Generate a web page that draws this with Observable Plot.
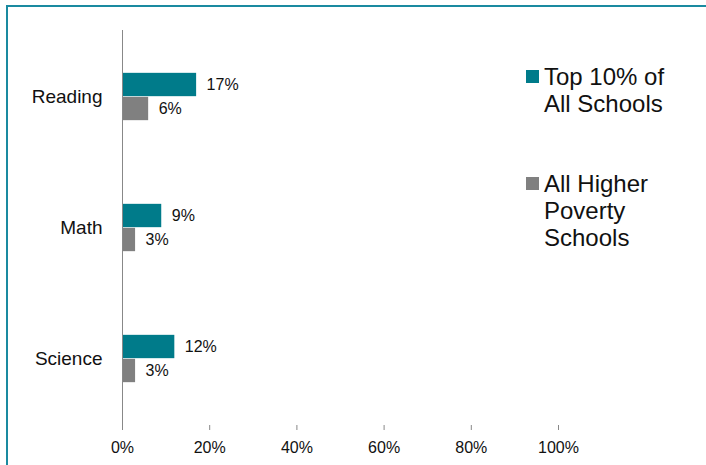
<!DOCTYPE html>
<html>
<head>
<meta charset="utf-8">
<script src="https://cdn.jsdelivr.net/npm/d3@7"></script>
<script src="https://cdn.jsdelivr.net/npm/@observablehq/plot@0.6"></script>
<style>
  html, body { margin: 0; padding: 0; background: #fff; overflow: hidden; }
  body { width: 706px; height: 465px; position: relative; font-family: "Liberation Sans", Arial, sans-serif; }
  #frame { position: absolute; left: 6px; top: 5px; width: 800px; height: 600px; border-left: 2px solid #1a8aa0; border-top: 2px solid #1a8aa0; }
  #chart { position: absolute; left: 0; top: 0; }
  .legend-item { position: absolute; left: 526px; font-size: 24px; line-height: 27px; color: #111; }
  .legend-item .sw { position: absolute; left: 0; width: 13px; height: 13px; }
  .legend-item .lbl { position: absolute; left: 18px; white-space: pre; }
</style>
</head>
<body>
<div id="frame"></div>
<div id="chart"></div>
<div id="legend"></div>
<script>
const categories = ["Reading", "Math", "Science"];
const series = ["Top 10% of All Schools", "All Higher Poverty Schools"];
const legendLines = [["Top 10% of", "All Schools"], ["All Higher", "Poverty", "Schools"]];
const topValues = [17, 9, 12];
const povertyValues = [6, 3, 3];
const xTicks = [0, 20, 40, 60, 80, 100];
const colors = ["#007b8a", "#808080"];

const data = [];
categories.forEach((c, i) => {
  data.push({category: c, series: series[0], value: topValues[i]});
  data.push({category: c, series: series[1], value: povertyValues[i]});
});

const marginTop = 30, marginBottom = 40, height = 465;
const bw = (height - marginTop - marginBottom) / categories.length;
const barH = 24;
const half = bw / 2;

const font = '"Liberation Sans", Arial, sans-serif';

const chart = Plot.plot({
  width: 706,
  height,
  marginLeft: 122,
  marginRight: 148,
  marginTop,
  marginBottom,
  style: {fontFamily: font, background: "transparent", overflow: "visible"},
  x: {domain: [0, 100], ticks: xTicks, tickFormat: d => d + "%", label: null},
  y: {domain: categories, padding: 0, label: null},
  color: {domain: series, range: colors},
  marks: [
    Plot.barX(data.filter(d => d.series === series[0]), {
      x: "value", y: "category", fill: "series",
      insetTop: half - barH, insetBottom: half
    }),
    Plot.barX(data.filter(d => d.series === series[1]), {
      x: "value", y: "category", fill: "series",
      insetTop: half, insetBottom: half - barH
    }),
    Plot.text(data.filter(d => d.series === series[0]), {
      x: "value", y: "category", text: d => d.value + "%",
      dx: 10, dy: -barH / 2, textAnchor: "start", fontSize: 16, fill: "#111"
    }),
    Plot.text(data.filter(d => d.series === series[1]), {
      x: "value", y: "category", text: d => d.value + "%",
      dx: 10, dy: barH / 2, textAnchor: "start", fontSize: 16, fill: "#111"
    }),
    Plot.axisX({ticks: xTicks, tickFormat: d => d + "%", tickSize: 5, tickPadding: 11, fontSize: 16, stroke: "#888", color: "#111", label: null}),
    Plot.ruleY([0], {y: () => 0, frameAnchor: "bottom", stroke: "#888"}),
    Plot.axisY({tickSize: 0, tickPadding: 20, fontSize: 19, color: "#111", label: null}),
    Plot.ruleX([0], {stroke: "#888"})
  ]
});
chart.querySelectorAll("text").forEach(t => t.setAttribute("fill", "#111"));
document.getElementById("chart").appendChild(chart);

const legend = document.getElementById("legend");
const tops = [62.5, 169.9];
const swTops = [70, 177.5];
series.forEach((s, i) => {
  const item = document.createElement("div");
  item.className = "legend-item";
  item.style.top = tops[i] + "px";
  const sw = document.createElement("div");
  sw.className = "sw";
  sw.style.background = colors[i];
  sw.style.top = (swTops[i] - tops[i]) + "px";
  const lbl = document.createElement("div");
  lbl.className = "lbl";
  lbl.textContent = legendLines[i].join("\n");
  item.appendChild(sw);
  item.appendChild(lbl);
  legend.appendChild(item);
});
</script>
</body>
</html>
